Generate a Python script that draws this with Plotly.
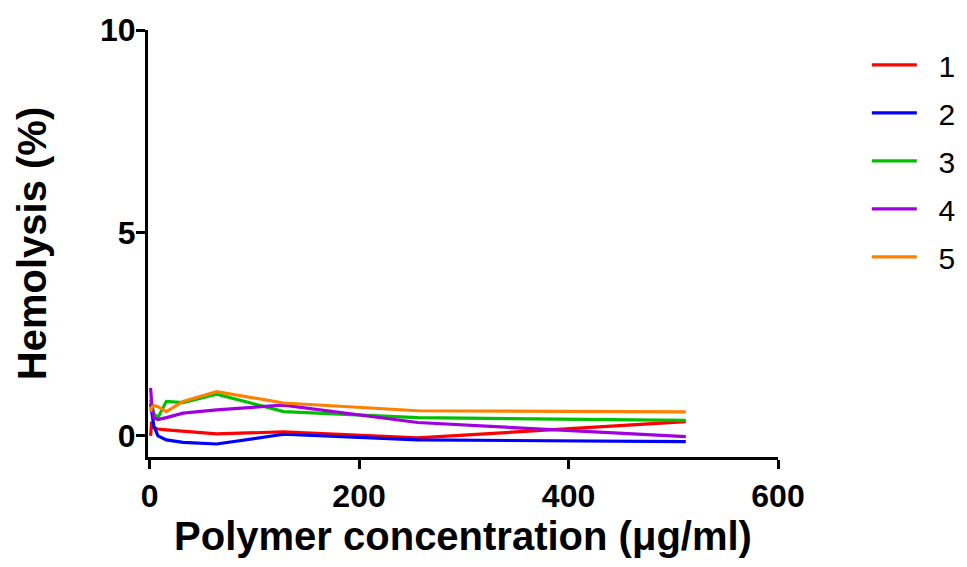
import plotly.graph_objects as go

conc = [1, 2, 4, 8, 16, 32, 64, 128, 256, 512]
series_names = ["1", "2", "3", "4", "5"]
s1 = [0.00, 0.35, 0.20, 0.17, 0.15, 0.12, 0.05, 0.10, -0.05, 0.35]
s2 = [0.80, 0.60, 0.25, 0.00, -0.10, -0.16, -0.20, 0.04, -0.10, -0.14]
s3 = [0.90, 0.75, 0.55, 0.45, 0.85, 0.82, 1.03, 0.60, 0.45, 0.38]
s4 = [1.18, 0.80, 0.45, 0.40, 0.45, 0.56, 0.64, 0.76, 0.33, -0.02]
s5 = [0.60, 0.70, 0.75, 0.72, 0.60, 0.85, 1.09, 0.81, 0.62, 0.59]
colors = ["#ff0000", "#0000ff", "#00c000", "#a000e0", "#ff8000"]
x_ticks = [0, 200, 400, 600]
y_ticks = [0, 5, 10]

pad = "\u00a0\u00a0"
fig = go.Figure()
for i, (name, ys) in enumerate(zip(series_names, [s1, s2, s3, s4, s5])):
    fig.add_trace(go.Scatter(
        x=conc, y=ys, mode="lines", name=pad + name, legendgroup=name,
        line=dict(color=colors[i], width=3.2),
    ))

font_family = "Liberation Sans, Arial, sans-serif"
fig.update_layout(
    width=959, height=559,
    paper_bgcolor="white", plot_bgcolor="white",
    margin=dict(l=140, r=189, t=22, b=110, autoexpand=False),
    font=dict(family=font_family, color="black"),
    showlegend=True,
    legend=dict(
        x=1.141, y=0.979, xanchor="left", yanchor="top",
        font=dict(size=30, family=font_family, color="black"),
        tracegroupgap=6, traceorder="grouped",
        itemwidth=45,
        bgcolor="rgba(0,0,0,0)",
    ),
    xaxis=dict(
        range=[-1.5, 600], tickvals=x_ticks, automargin=False,
        showline=True, linecolor="black", linewidth=3,
        ticks="outside", ticklen=9, tickwidth=3, tickcolor="black",
        showgrid=False, zeroline=False,
        tickfont=dict(size=32, weight="bold"),
        ticklabelstandoff=0,
        title=dict(text="Polymer concentration (μg/ml)",
                   font=dict(size=40, weight="bold"), standoff=0),
    ),
    yaxis=dict(
        range=[-0.52, 10], tickvals=y_ticks, automargin=False,
        showline=True, linecolor="black", linewidth=3,
        ticks="outside", ticklen=9, tickwidth=3, tickcolor="black",
        showgrid=False, zeroline=False,
        tickfont=dict(size=32, weight="bold"),
        ticklabelstandoff=-6,
        title=dict(text="Hemolysis (%)",
                   font=dict(size=40, weight="bold"), standoff=42),
    ),
)

fig.write_html("out.html")
